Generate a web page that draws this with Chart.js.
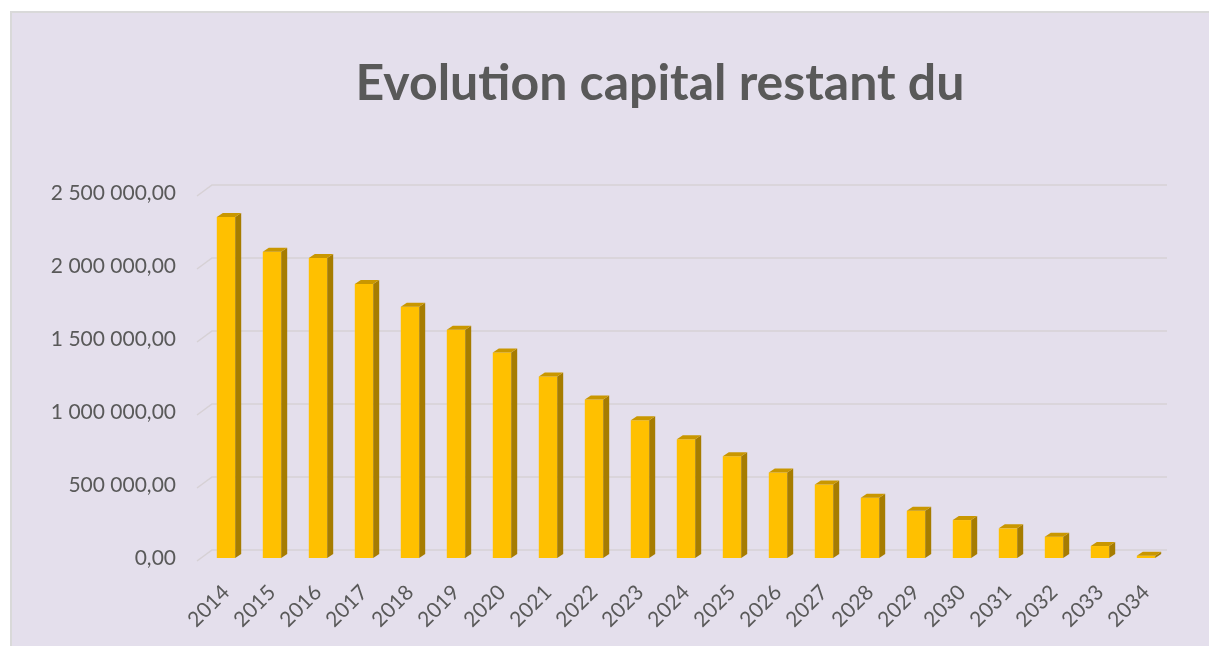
<!DOCTYPE html>
<html>
<head>
<meta charset="utf-8">
<script src="https://cdn.jsdelivr.net/npm/chart.js@4.4.1/dist/chart.umd.min.js"></script>
<style>
  html, body { margin: 0; padding: 0; background: #ffffff; width: 1209px; height: 646px; overflow: hidden; }
  #wrap { position: absolute; left: 10px; top: 11px; width: 1197px; height: 633px;
          border-left: 2px solid #d9d9d9; border-top: 2px solid #d9d9d9; background: #e4dfec; }
  canvas { display: block; }
</style>
</head>
<body>
<div id="wrap"><canvas id="c" width="1197" height="633"></canvas></div>
<script>
const years = ['2014','2015','2016','2017','2018','2019','2020','2021','2022','2023','2024',
               '2025','2026','2027','2028','2029','2030','2031','2032','2033','2034'];
const capitalRestant = [2336000, 2097000, 2054000, 1876000, 1721000, 1564000, 1407000, 1243000,
                        1086000, 943000, 813000, 697000, 585000, 503000, 412000, 323000, 260000,
                        203000, 146000, 82000, 15000];
const yTicks = [0, 500000, 1000000, 1500000, 2000000, 2500000];
const chartTitle = 'Evolution capital restant du';

function fmt(v) {
  return Math.round(v).toString().replace(/\B(?=(\d{3})+(?!\d))/g, ' ') + ',00';
}

const DX = 6, DY = 4;

const offsetTitle = {
  id: 'offsetTitle',
  afterDraw(chart) {
    const ctx = chart.ctx;
    ctx.save();
    ctx.fillStyle = '#595959';
    ctx.font = 'bold 50px Lato';
    ctx.textAlign = 'center';
    ctx.textBaseline = 'alphabetic';
    ctx.fillText(chartTitle, chart.width * 0.5413, 87);
    ctx.restore();
  }
};

const backGrid = {
  id: 'backGrid',
  beforeDatasetsDraw(chart) {
    const ctx = chart.ctx, ys = chart.scales.y, area = chart.chartArea;
    ctx.save();
    ctx.strokeStyle = 'rgba(208,203,203,0.7)';
    ctx.lineWidth = 1.5;
    yTicks.forEach(v => {
      const py = ys.getPixelForValue(v);
      ctx.beginPath();
      ctx.moveTo(area.left - 6, py + 3);
      ctx.lineTo(area.left + 9, py - 8);
      ctx.lineTo(area.right - 2, py - 8);
      ctx.stroke();
    });
    ctx.restore();
  }
};

const bars3d = {
  id: 'bars3d',
  afterDatasetsDraw(chart) {
    const ctx = chart.ctx;
    const meta = chart.getDatasetMeta(0);
    ctx.save();
    meta.data.forEach(bar => {
      const p = bar.getProps(['x', 'y', 'base', 'width'], true);
      const l = p.x - p.width / 2, r = p.x + p.width / 2;
      ctx.fillStyle = '#a67c00';
      ctx.beginPath();
      ctx.moveTo(r, p.y);
      ctx.lineTo(r + DX, p.y - DY);
      ctx.lineTo(r + DX, p.base - DY);
      ctx.lineTo(r, p.base);
      ctx.closePath();
      ctx.fill();
      ctx.fillStyle = '#c99700';
      ctx.beginPath();
      ctx.moveTo(l, p.y);
      ctx.lineTo(l + DX, p.y - DY);
      ctx.lineTo(r + DX, p.y - DY);
      ctx.lineTo(r, p.y);
      ctx.closePath();
      ctx.fill();
    });
    ctx.restore();
  }
};

new Chart(document.getElementById('c'), {
  type: 'bar',
  data: {
    labels: years,
    datasets: [{
      data: capitalRestant,
      backgroundColor: '#ffc000',
      borderWidth: 0,
      categoryPercentage: 1.0,
      barPercentage: 0.4
    }]
  },
  options: {
    responsive: false,
    animation: false,
    devicePixelRatio: 1,
    layout: { padding: { left: 30, right: 40, top: 180, bottom: 0 } },
    plugins: {
      legend: { display: false },
      tooltip: { enabled: false },
      title: { display: false, text: chartTitle }
    },
    scales: {
      x: {
        grid: { display: false },
        border: { display: false },
        ticks: {
          color: '#595959',
          font: { family: 'Lato', size: 21 },
          minRotation: 45, maxRotation: 45,
          padding: 14
        },
        afterFit(s) { s.height = 88; }
      },
      y: {
        min: 0, max: 2500000,
        afterBuildTicks(s) { s.ticks = yTicks.map(v => ({ value: v })); },
        grid: { display: false },
        border: { display: false },
        ticks: {
          color: '#595959',
          font: { family: 'Lato', size: 21 },
          padding: 19,
          callback: v => fmt(v)
        },
        afterFit(s) { s.width = 161; }
      }
    }
  },
  plugins: [backGrid, bars3d, offsetTitle]
});
</script>
</body>
</html>
